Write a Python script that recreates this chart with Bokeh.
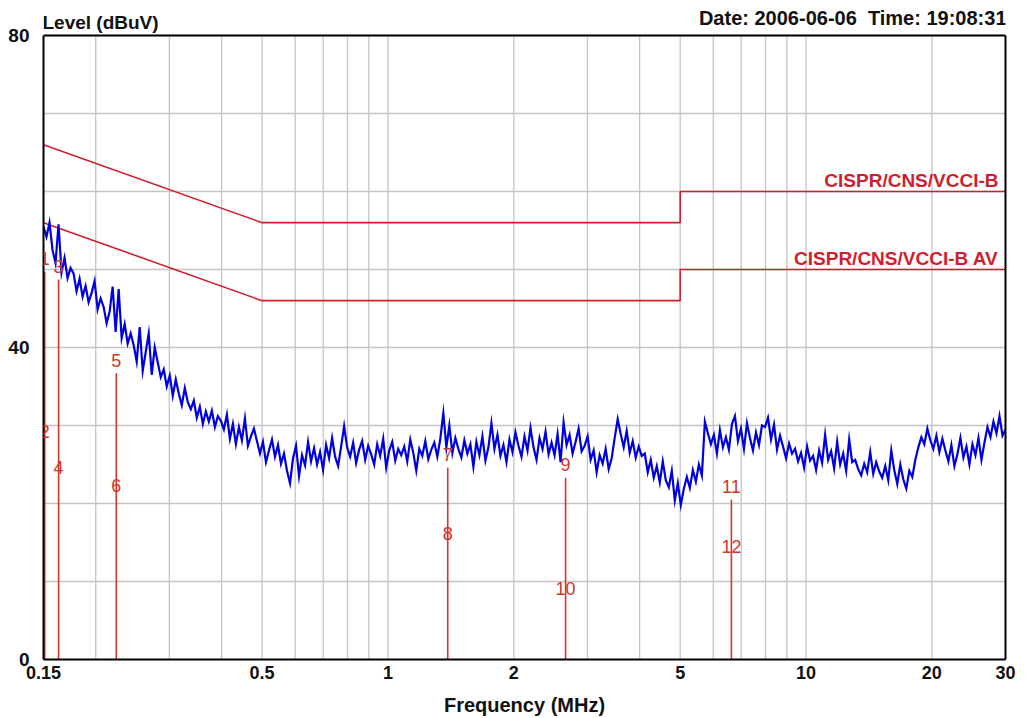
from bokeh.plotting import figure
from bokeh.models import (Range1d, FixedTicker, NumeralTickFormatter, LinearAxis,
                          Label, LabelSet, ColumnDataSource)
from bokeh.core.properties import value
from bokeh.embed import file_html
from bokeh.resources import INLINE
import numpy as np

# Measured conducted emission level (dBuV), one reading per sweep point
level_dbuv = [
    55.5, 54.2, 56.0, 52.5, 50.8, 55.8, 49.6, 51.5, 48.9, 50.2,
    49.5, 47.2, 48.8, 46.5, 47.9, 45.8, 47.0, 48.5, 44.9, 46.3,
    45.2, 43.1, 44.6, 47.8, 42.0, 47.5, 41.2, 43.0, 40.5, 41.8,
    40.3, 38.2, 42.6, 37.0, 39.4, 41.8, 36.5, 40.0, 38.1, 36.2,
    37.2, 35.0, 36.4, 33.8, 35.9, 34.1, 32.6, 34.8, 33.0, 32.1,
    33.2, 31.0, 32.4, 30.2, 31.8, 30.5, 31.9, 29.8, 31.2, 30.6,
    29.5, 31.4, 28.3, 30.2, 27.6, 29.8, 28.1, 30.9, 27.4, 28.6,
    29.6, 28.0, 26.4, 27.9, 25.3, 26.8, 28.2, 26.0, 27.5, 25.1,
    26.4, 24.2, 22.6, 25.8, 27.4, 23.5, 26.2, 24.9, 27.9, 25.4,
    27.1, 25.0, 26.6, 24.3, 27.5, 25.8, 28.4, 26.0, 24.8, 27.3,
    29.9, 27.2, 26.0, 27.8, 25.2, 26.9, 28.0, 25.6, 27.4, 26.3,
    25.0, 27.6, 26.1, 28.3, 24.6, 26.8, 27.9, 25.5, 27.0, 26.2,
    27.3, 25.4, 28.2, 26.5, 24.2, 27.0, 26.1, 28.0, 25.7, 26.9,
    27.8, 26.0, 28.3, 31.6, 27.2, 30.0, 26.5, 28.4, 27.0, 25.9,
    28.1, 26.4, 27.6, 24.7, 27.9, 26.2, 28.6, 25.5, 27.2, 30.3,
    27.0, 28.8, 26.1, 27.5, 25.3, 28.2, 26.6, 29.1, 27.4, 26.0,
    28.6, 26.8, 29.7, 27.2, 25.6, 28.4, 27.0, 29.2, 26.3, 27.8,
    26.2, 28.9, 25.3, 30.4, 27.5, 28.8, 26.4, 27.9, 29.6, 26.7,
    27.4, 28.6, 25.6, 26.8, 24.0, 26.2, 25.1, 27.0, 24.4, 25.8,
    28.4, 30.8, 28.9, 27.2, 29.3, 26.5, 28.0, 25.9, 27.3, 26.1,
    26.4, 24.0, 25.6, 23.3, 24.8, 22.7, 25.4, 23.0, 22.1, 24.2,
    20.4, 22.6, 19.8, 21.9, 23.4, 22.0, 24.3, 22.8, 25.0, 23.6,
    30.5, 29.0, 27.6, 28.8, 26.4, 29.4, 27.2, 28.5, 26.9, 30.2,
    31.2, 28.0, 29.6, 27.0, 30.3, 28.4, 26.8, 29.1, 27.5, 30.0,
    29.8, 31.0, 28.2, 30.1, 26.9, 28.7, 27.3, 25.8, 27.7, 26.4,
    27.0, 25.4, 26.5, 24.6, 27.3, 25.5, 26.1, 24.3, 26.8, 25.2,
    28.8, 25.6, 26.7, 24.5, 27.9, 25.0, 26.4, 24.2, 28.2, 25.3,
    25.6, 24.4, 23.6, 25.1, 24.0, 26.6, 23.8, 25.3, 24.1, 23.3,
    24.8, 23.0, 26.8, 24.3, 22.5, 25.0, 23.1, 21.9, 24.2, 23.4,
    25.6, 27.2, 28.5, 27.6, 29.6, 28.1, 27.0, 28.7, 26.6, 28.3,
    26.8, 25.4, 27.5, 24.8, 26.3, 28.4, 25.9, 27.3, 25.0, 27.6,
    26.2, 28.4, 25.6, 27.8, 29.8, 28.5, 30.5, 29.0, 31.2, 28.7,
    29.5,
]
# Sweep points are spaced evenly on a logarithmic frequency scale
sweep_mhz = np.geomspace(0.15, 30.0, len(level_dbuv))

# CISPR 22 class B limits (quasi-peak and average)
limit_freq_mhz = [0.15, 0.5, 5.0, 5.0, 30.0]
limit_qp = [66, 56, 56, 60, 60]
limit_av = [56, 46, 46, 50, 50]
limit_names = ["CISPR/CNS/VCCI-B", "CISPR/CNS/VCCI-B AV"]

# Markers: odd numbers quasi-peak, even numbers average reading
marker_ids = ["1", "2", "3", "4", "5", "6", "7", "8", "9", "10", "11", "12"]
marker_freq_mhz = [0.151, 0.151, 0.163, 0.163, 0.224, 0.224,
                   1.39, 1.39, 2.66, 2.66, 6.63, 6.63]
marker_level = [49.7, 27.5, 48.7, 22.9, 36.7, 20.6,
                24.6, 14.5, 23.3, 7.4, 20.5, 12.8]

x_ticks = [0.15, 0.5, 1, 2, 5, 10, 20, 30]
x_grid = [0.2, 0.3, 0.4, 0.5, 0.6, 0.7, 0.8, 0.9, 1, 2, 3, 4, 5, 6, 7, 8, 9, 10, 20]
y_ticks = [0, 40, 80]
y_grid = list(range(0, 81, 10))

header_left = "Level (dBuV)"
header_right = "Date: 2006-06-06\u00a0\u00a0Time: 19:08:31"

FONT = "Liberation Sans"
INK = "#111111"
GRID = "#c4c4c4"
LIMIT_RED = "#d01e2e"
MARK_RED = "#d2362a"

# Frame geometry: the data box spans 0..80 dB, a small header strip sits above it
W, H = 1029, 718
BORDER_L, BORDER_R, BORDER_T, BORDER_B = 43, 24, 2, 58
BOX_TOP_PX = 35
frame_h = H - BORDER_T - BORDER_B
y_lo, y_hi = y_ticks[0], y_ticks[-1]
y_top = y_lo + (y_hi - y_lo) * frame_h / (frame_h - (BOX_TOP_PX - BORDER_T))
x_lo, x_hi = x_ticks[0], x_ticks[-1]

p = figure(width=W, height=H, x_axis_type="log",
           x_range=Range1d(x_lo, x_hi), y_range=Range1d(y_lo, y_top),
           output_backend="svg", toolbar_location=None,
           min_border_left=BORDER_L, min_border_right=BORDER_R,
           min_border_top=BORDER_T, min_border_bottom=BORDER_B)
p.background_fill_color = "white"
p.border_fill_color = "white"
p.outline_line_color = None

p.xgrid.visible = False
p.ygrid.ticker = FixedTicker(ticks=y_grid)
p.ygrid.grid_line_color = GRID
p.ygrid.grid_line_width = 1.3

p.xaxis.ticker = FixedTicker(ticks=x_ticks)
p.xaxis.formatter = NumeralTickFormatter(format="0.[00]")
p.yaxis.ticker = FixedTicker(ticks=y_ticks)
p.yaxis.formatter = NumeralTickFormatter(format="0")
p.yaxis.bounds = (y_lo, y_hi)
for ax in (p.xaxis[0], p.yaxis[0]):
    ax.axis_line_color = "black"
    ax.axis_line_width = 2
    ax.major_tick_line_color = None
    ax.minor_tick_line_color = None
    ax.major_label_text_font = FONT
    ax.major_label_text_font_style = "bold"
    ax.major_label_text_color = INK
p.xaxis.major_label_text_font_size = "18px"
p.yaxis.major_label_text_font_size = "19px"
p.xaxis.major_label_standoff = 0
p.yaxis.major_label_standoff = 8
p.xaxis.axis_label = "Frequency (MHz)"
p.xaxis.axis_label_text_font = FONT
p.xaxis.axis_label_text_font_style = "bold"
p.xaxis.axis_label_text_font_size = "20px"
p.xaxis.axis_label_text_color = INK
p.xaxis.axis_label_standoff = 12

# right edge of the data box
right_edge = LinearAxis(bounds=(y_lo, y_hi), ticker=FixedTicker(ticks=[]),
                        axis_line_color="black", axis_line_width=2,
                        major_tick_line_color=None, minor_tick_line_color=None,
                        major_label_text_font_size="0px")
p.add_layout(right_edge, "right")

# vertical grid lines, limited to the data box
p.segment(x0=x_grid, y0=[y_lo] * len(x_grid), x1=x_grid, y1=[y_hi] * len(x_grid),
          line_color=GRID, line_width=1.3)

# top edge of the data box
p.segment(x0=[x_lo], y0=[y_hi], x1=[x_hi], y1=[y_hi],
          line_color="black", line_width=2)

# Limit lines with their names
p.line(limit_freq_mhz, limit_qp, line_color=LIMIT_RED, line_width=1.6)
p.line(limit_freq_mhz, limit_av, line_color=LIMIT_RED, line_width=1.6)
for name, lim in zip(limit_names, (limit_qp, limit_av)):
    p.add_layout(Label(x=limit_freq_mhz[-1], y=lim[-1], text=name,
                       x_offset=-7, y_offset=11, text_align="right",
                       text_baseline="middle", text_font=FONT,
                       text_font_style="bold", text_font_size="19px",
                       text_color=LIMIT_RED))

# Marker stems (quasi-peak readings give the stem height)
qp_f = marker_freq_mhz[0::2]
qp_l = marker_level[0::2]
p.segment(x0=qp_f, y0=[y_lo] * len(qp_f), x1=qp_f, y1=qp_l,
          line_color=MARK_RED, line_width=1.6)

# Measured trace
p.line(sweep_mhz, level_dbuv, line_color="#0000dc", line_width=2.2,
       line_join="miter")

# Marker numbers
markers = ColumnDataSource(dict(f=marker_freq_mhz, lvl=marker_level, name=marker_ids))
p.add_layout(LabelSet(x="f", y="lvl", text="name", source=markers,
                      y_offset=13, text_align="center", text_baseline="middle",
                      text_font=value(FONT), text_font_size=value("18px"),
                      text_color=value(MARK_RED)))

# Header texts above the data box
p.add_layout(Label(x=x_lo, y=y_hi, text=header_left, x_offset=-1, y_offset=13,
                   text_align="left", text_baseline="middle", text_font=FONT,
                   text_font_style="bold", text_font_size="19px", text_color=INK))
p.add_layout(Label(x=x_hi, y=y_hi, text=header_right, x_offset=1, y_offset=17,
                   text_align="right", text_baseline="middle", text_font=FONT,
                   text_font_style="bold", text_font_size="20px", text_color=INK))

open("out.html", "w").write(file_html(p, INLINE))
